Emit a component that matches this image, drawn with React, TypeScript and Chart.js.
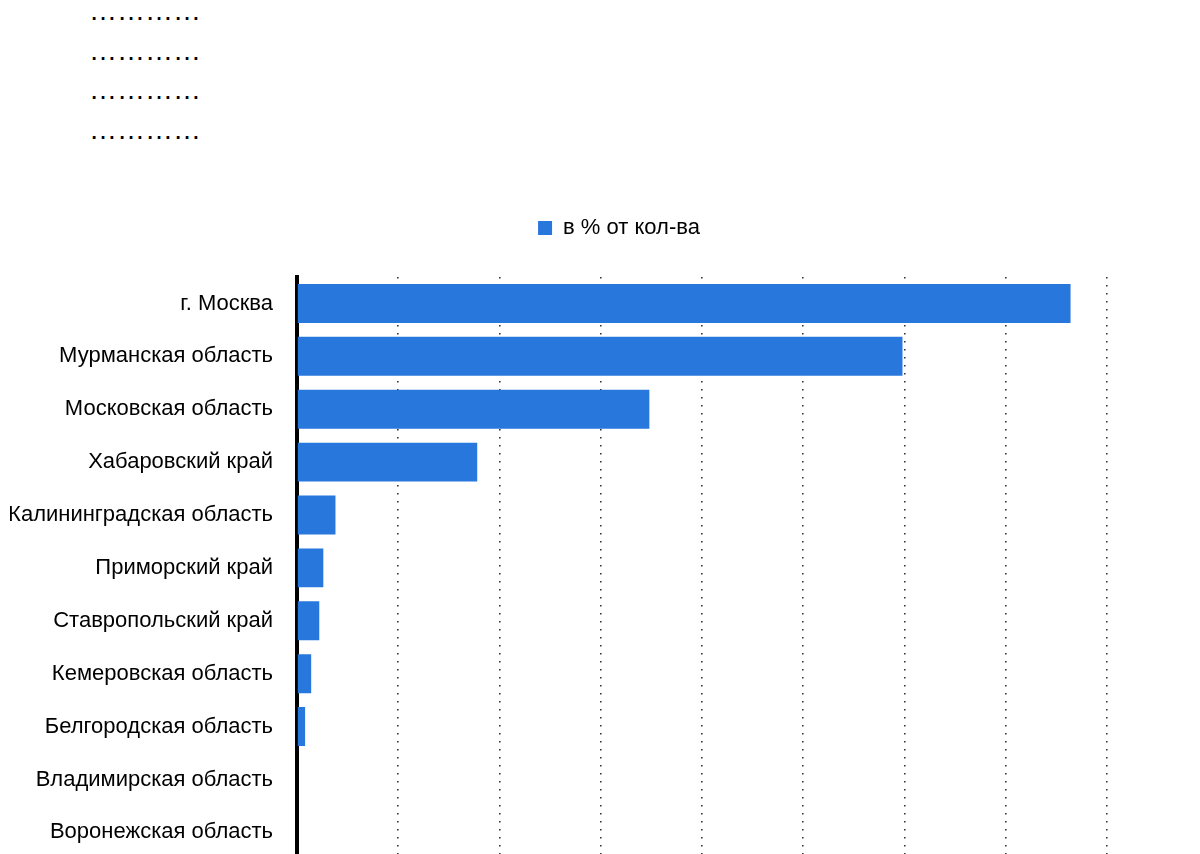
import React, { useEffect, useRef } from "react";
import { Chart, registerables } from "chart.js";

Chart.register(...registerables);

const titleLines = ["…………", "…………", "…………", "…………"];
const categories = [
  "г. Москва",
  "Мурманская область",
  "Московская область",
  "Хабаровский край",
  "Калининградская область",
  "Приморский край",
  "Ставропольский край",
  "Кемеровская область",
  "Белгородская область",
  "Владимирская область",
  "Воронежская область",
];
const seriesLabel = "в % от кол-ва";
const seriesValues = [38.2, 29.9, 17.4, 8.9, 1.9, 1.3, 1.1, 0.7, 0.4, 0, 0];
const xMin = 0;
const xMax = 40;
const xStep = 5;

const FONT = "'Liberation Sans', Arial, sans-serif";
const BLUE = "#2877dd";

const legendGap = {
  id: "legendGap",
  beforeInit(chart: any) {
    const legend = chart.legend;
    if (!legend) return;
    const orig = legend.fit;
    legend.fit = function () {
      orig.call(this);
      this.height += 28;
    };
  },
};

export default function App() {
  const ref = useRef<HTMLCanvasElement | null>(null);
  useEffect(() => {
    if (!ref.current) return;
    const chart = new Chart(ref.current, {
      type: "bar",
      data: {
        labels: categories,
        datasets: [
          {
            label: seriesLabel,
            data: seriesValues,
            backgroundColor: BLUE,
            borderWidth: 0,
            categoryPercentage: 0.8,
            barPercentage: 0.92,
          },
        ],
      },
      plugins: [legendGap],
      options: {
        indexAxis: "y",
        animation: false,
        responsive: true,
        maintainAspectRatio: false,
        layout: { padding: { left: 10, right: 0, top: 0, bottom: 0 } },
        plugins: {
          legend: {
            display: true,
            position: "top",
            labels: {
              boxWidth: 14,
              boxHeight: 14,
              color: "#000",
              font: { family: FONT, size: 22 },
            },
          },
          tooltip: { enabled: false },
          title: { display: false },
        },
        scales: {
          x: {
            type: "linear",
            position: "bottom",
            min: xMin,
            max: xMax,
            ticks: { stepSize: xStep, display: false },
            grid: {
              display: true,
              color: "#333",
              lineWidth: 1.6,
              drawTicks: false,
            },
            border: { display: false, dash: [1.6, 6.4] },
          },
          y: {
            type: "category",
            position: "left",
            z: 1,
            grid: { display: false, drawTicks: false },
            border: { display: true, color: "#000", width: 4 },
            ticks: {
              color: "#000",
              padding: 24,
              font: { family: FONT, size: 22 },
            },
            afterFit(scale: any) {
              scale.width = 287;
            },
          },
          yR: {
            type: "linear",
            position: "right",
            display: true,
            grid: { display: false, drawTicks: false },
            border: { display: false },
            ticks: { display: false },
            afterFit(scale: any) {
              scale.width = 121;
            },
          },
        },
      },
    });
    return () => chart.destroy();
  }, []);

  return (
    <div
      style={{
        position: "fixed",
        left: 0,
        top: 0,
        width: 1200,
        height: 854,
        overflow: "hidden",
        background: "#fff",
      }}
    >
      <div
        style={{
          position: "absolute",
          left: 89,
          top: -9,
          fontFamily: "'Liberation Sans', Arial, sans-serif",
          fontSize: 28,
          lineHeight: "39.5px",
          color: "#000",
          whiteSpace: "pre",
        }}
      >
        {titleLines.map((t, i) => (
          <div key={i}>{t}</div>
        ))}
      </div>
      <div
        style={{
          position: "absolute",
          left: 0,
          top: 207,
          width: 1228,
          height: 689,
        }}
      >
        <canvas ref={ref} />
      </div>
    </div>
  );
}
